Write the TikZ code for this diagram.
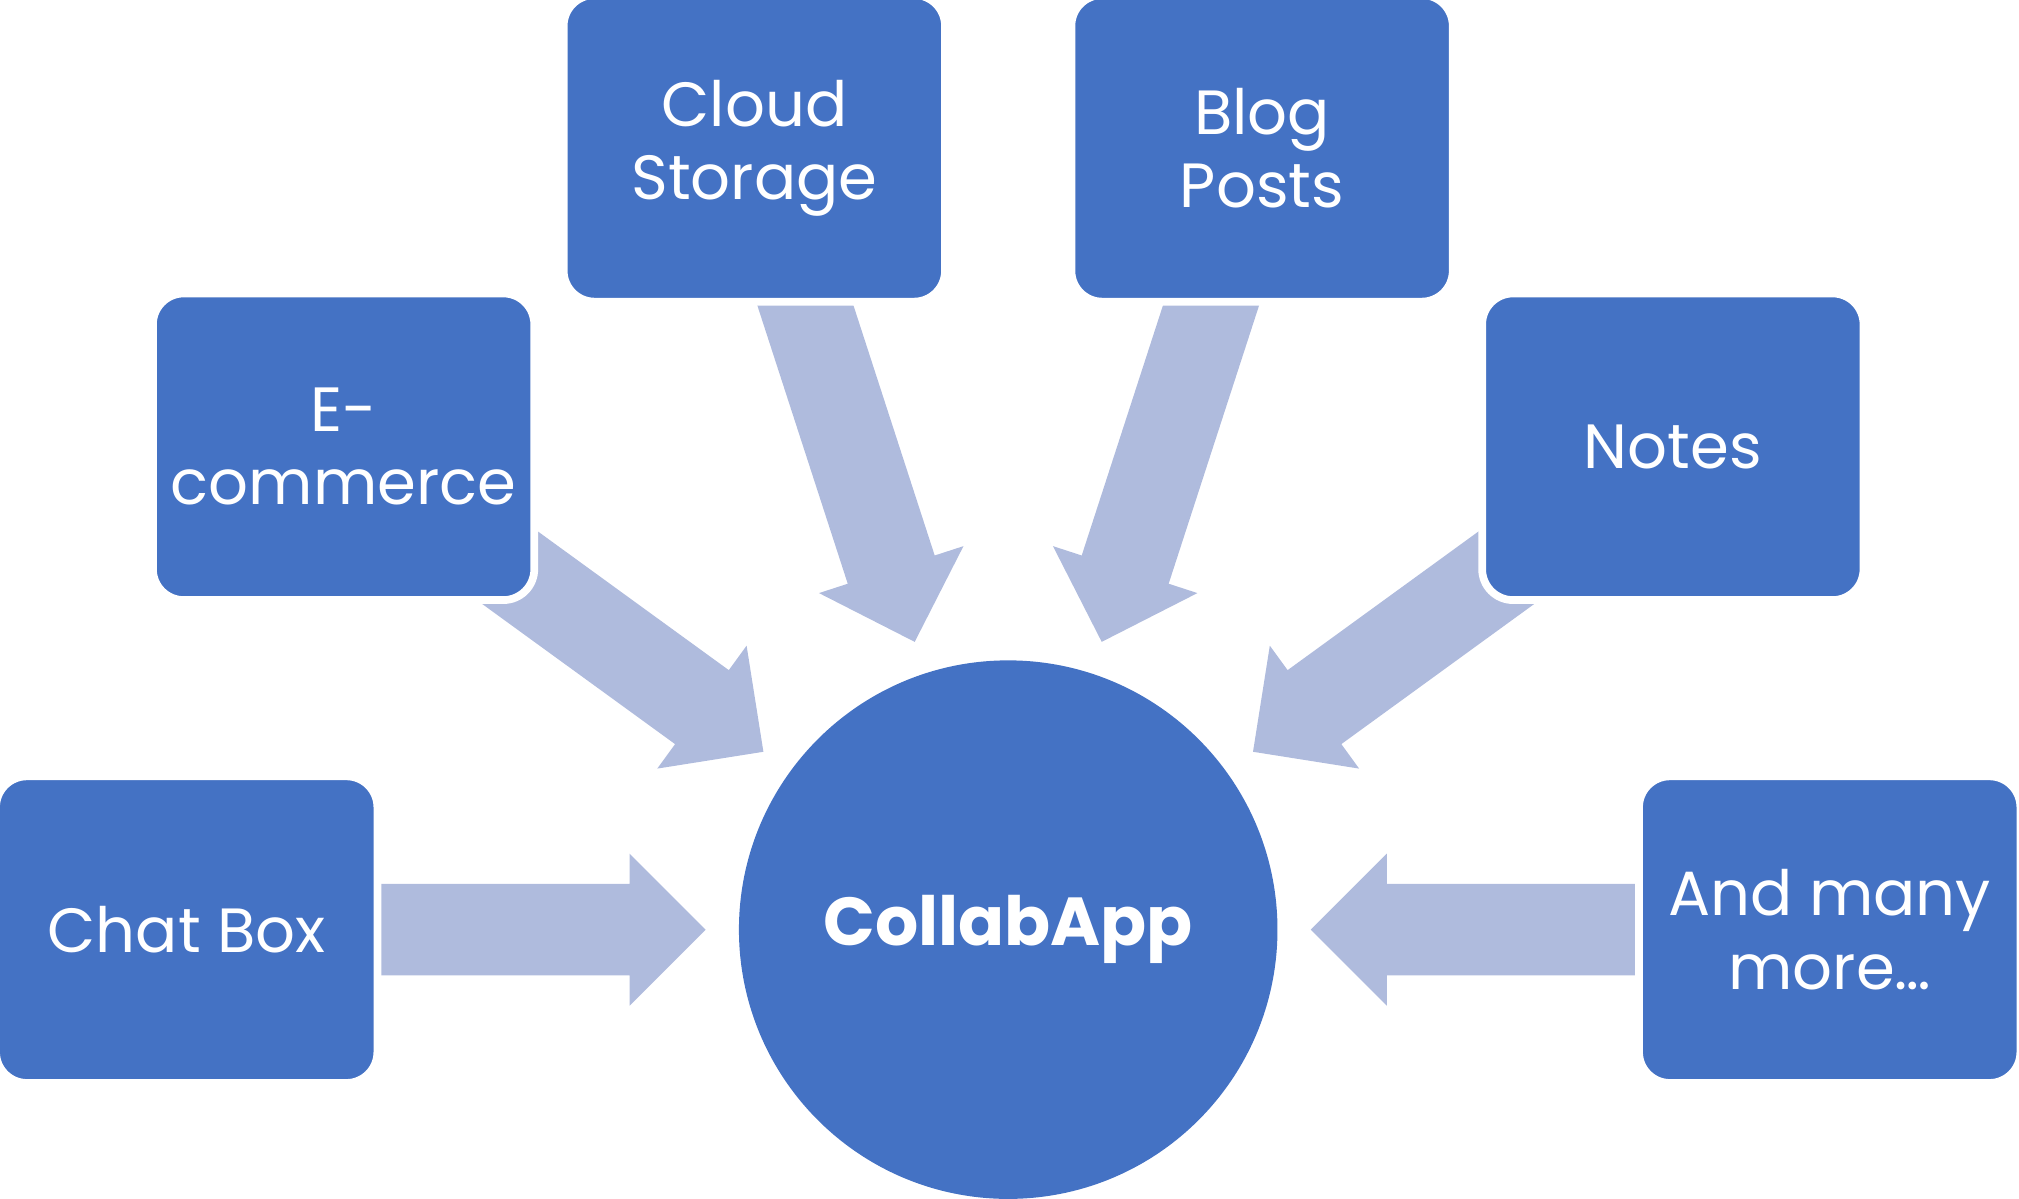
\documentclass[tikz,border=0pt]{standalone}
\usepackage{fontspec}
\setmainfont{Poppins}
\usetikzlibrary{calc,backgrounds}
\definecolor{boxblue}{HTML}{4472C4}
\definecolor{feedblue}{HTML}{AFBBDD}
\tikzset{
	item/.style={
			rectangle, rounded corners=0.24cm, fill=boxblue, draw=white, line width=0.06cm,
			minimum width=2.96cm, minimum height=2.38cm, inner sep=0pt,
			text=white, align=center, font=\fontsize{13.8}{16.2}\selectfont
		},
	hub/.style={
			circle, fill=boxblue, minimum size=4.18cm, inner sep=0pt,
			text=white, font=\fontsize{15}{16.2}\selectfont\bfseries
		},
	feed/.style={fill=feedblue}
}

\begin{document}
\begin{tikzpicture}[x=0.01cm,y=0.01cm]
	\useasboundingbox (0,0) rectangle (1568,931);

	% The app in the middle
	\node[hub] (app) at (783,209) {CollabApp};

	% Services placed round it
	\node[item] (chat)  at ($(app)+(180:638)$) {Chat Box};
	\node[item] (ecom)  at ($(app)+(144:638)$) {E-\\commerce};
	\node[item] (cloud) at ($(app)+(108:638)$) {Cloud\\Storage};
	\node[item] (blog)  at ($(app)+(72:638)$)  {Blog\\Posts};
	\node[item] (notes) at ($(app)+(36:638)$)  {Notes};
	\node[item] (more)  at ($(app)+(0:638)$)   {And many\\more…};

	% Block arrows from each service into the app
	\begin{scope}[on background layer]
		\foreach \src in {chat,ecom,cloud,blog,notes,more} {
			\pgfmathanglebetweenpoints{\pgfpointanchor{app}{center}}{\pgfpointanchor{\src}{center}}
			\let\ang\pgfmathresult
			\fill[feed, shift={(app.center)}, rotate=\ang]
				(235,0) -- (294,59) -- (294,35.5) -- (560,35.5)
				-- (560,-35.5) -- (294,-35.5) -- (294,-59) -- cycle;
		}
	\end{scope}
\end{tikzpicture}
\end{document}
